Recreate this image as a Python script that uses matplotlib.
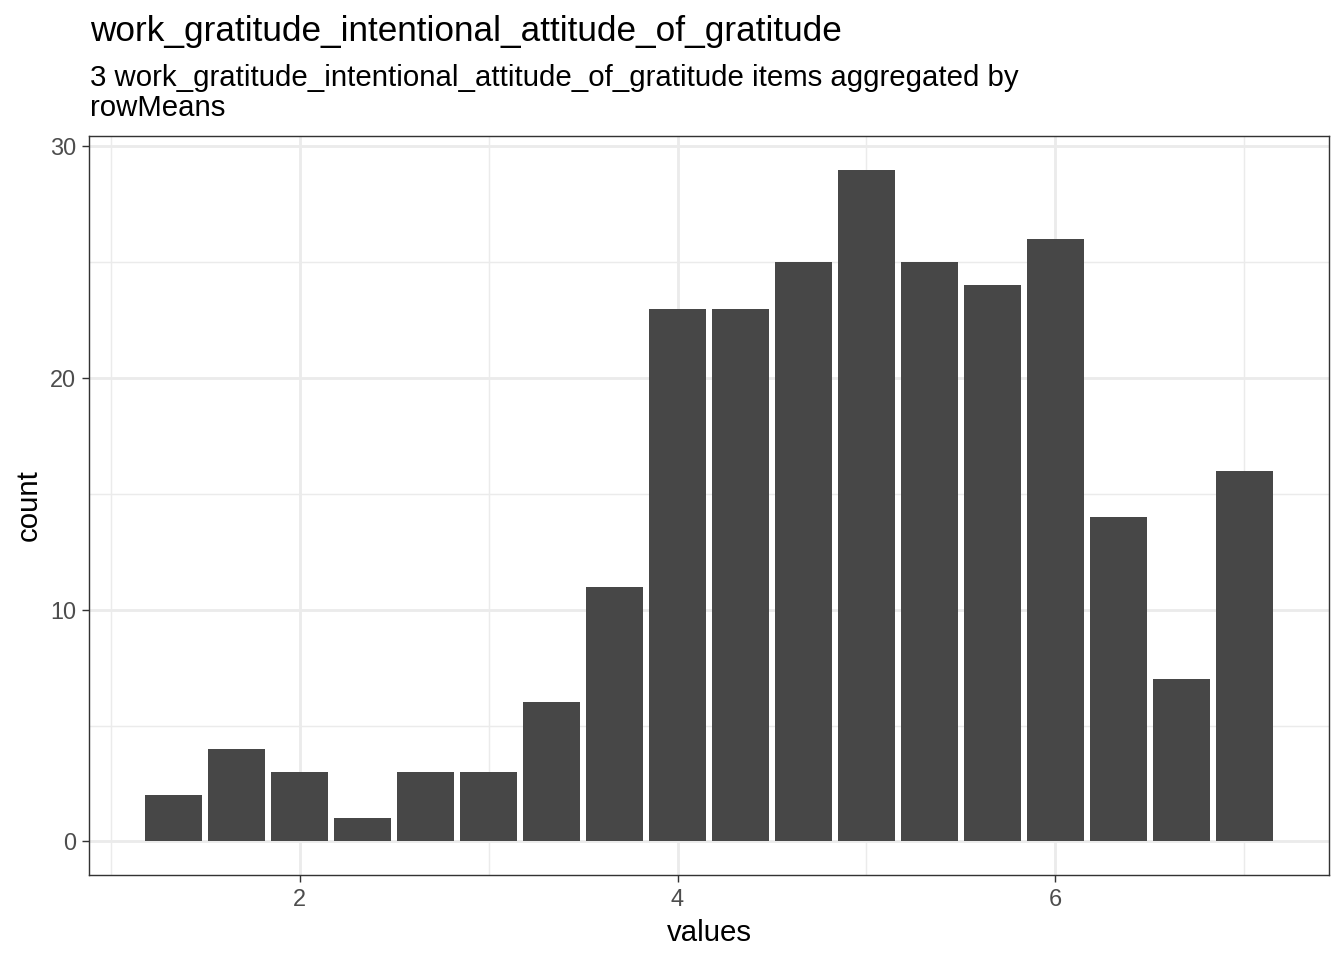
import matplotlib
matplotlib.use('Agg')
import matplotlib.pyplot as plt
from matplotlib.ticker import MultipleLocator

plt.rcParams['font.family'] = ['Liberation Sans', 'DejaVu Sans']

# histogram of rowMeans (steps of 1/3)
values = [4 / 3, 5 / 3, 2, 7 / 3, 8 / 3, 3, 10 / 3, 11 / 3, 4, 13 / 3,
          14 / 3, 5, 16 / 3, 17 / 3, 6, 19 / 3, 20 / 3, 7]
counts = [2, 4, 3, 1, 3, 3, 6, 11, 23, 23, 25, 29, 25, 24, 26, 14, 7, 16]

title = 'work_gratitude_intentional_attitude_of_gratitude'
subtitle = ('3 work_gratitude_intentional_attitude_of_gratitude items aggregated by\n'
            'rowMeans')

grid_col = '#EBEBEB'
dark = '#333333'

fig = plt.figure(figsize=(7, 5), dpi=192)
ax = fig.add_axes([89 / 1344, 85 / 960, (1329 - 89) / 1344, (875 - 136) / 960])

ax.bar(values, counts, width=0.9 / 3, color='#474747', zorder=3)

xmin, xmax = min(values) - 0.15, max(values) + 0.15
xpad = (xmax - xmin) * 0.05
ax.set_xlim(xmin - xpad, xmax + xpad)
ypad = max(counts) * 0.05
ax.set_ylim(-ypad, max(counts) + ypad)

ax.xaxis.set_major_locator(MultipleLocator(2))
ax.xaxis.set_minor_locator(MultipleLocator(1))
ax.yaxis.set_major_locator(MultipleLocator(10))
ax.yaxis.set_minor_locator(MultipleLocator(5))
ax.grid(True, which='major', color=grid_col, linewidth=1.07, zorder=0)
ax.grid(True, which='minor', color=grid_col, linewidth=0.53, zorder=0)
ax.set_axisbelow(True)

for s in ax.spines.values():
    s.set_color(dark)
    s.set_linewidth(0.53)

ax.tick_params(which='major', length=2.75, width=0.53, color=dark,
               labelsize=8.8, labelcolor='#4D4D4D', pad=2.2)
ax.tick_params(which='minor', length=0)

ax.set_xlabel('values', fontsize=11, labelpad=2.75)
ax.set_ylabel('count', fontsize=11, labelpad=2.75)

fig.text(90 / 1344, 1 - 41 / 960, title, fontsize=13.2, va='baseline', ha='left')
fig.text(90 / 1344, 1 - 64 / 960, subtitle, fontsize=11, va='top', ha='left',
         linespacing=1.08)

fig.savefig('out.png', dpi=192)
